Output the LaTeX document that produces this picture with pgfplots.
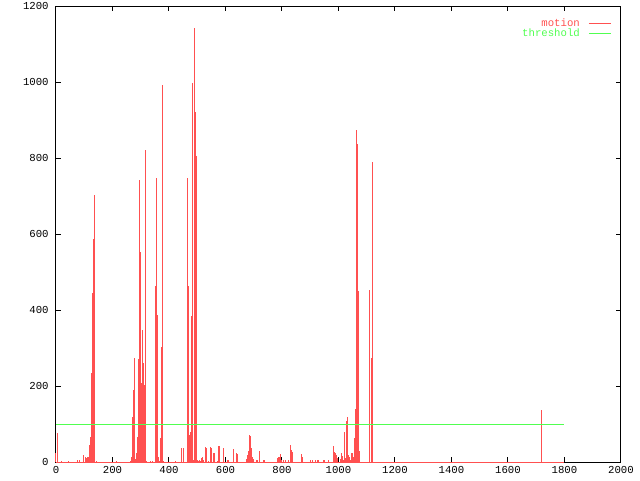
\documentclass[border=0pt]{standalone}
\usepackage{pgfplots}
\pgfplotsset{compat=1.18}
\usepackage{fontspec}
\setmainfont{Liberation Mono}
\definecolor{gpred}{RGB}{255,80,80}
\definecolor{gpgreen}{RGB}{80,255,80}
\begin{document}
\begin{tikzpicture}
\begin{axis}[
  scale only axis,
  width=423.75pt, height=342pt,
  at={(0,0)}, anchor=south west,
  xmin=0, xmax=2000, ymin=0, ymax=1200,
  xtick={0,200,...,2000}, ytick={0,200,...,1200},
  tick align=inside, major tick length=3.75pt,
  tick style={black, line width=0.75pt},
  axis line style={black, line width=0.75pt},
  /pgf/number format/assume math mode=true,
  /pgf/number format/1000 sep={},
  tick label style={font=\fontsize{8}{9}\selectfont},
  xticklabel style={yshift=0pt},
  yticklabel style={xshift=-2pt},
  clip=false,
  legend style={draw=none, fill=none, at={(0.986,0.982)}, anchor=north east,
    font=\fontsize{8}{8.5}\selectfont, row sep=-3.5pt, inner sep=1pt},
  legend cell align=right,
  legend plot pos=right,
]
\addplot[ycomb, gpred, line width=0.75pt, mark=none,
  legend image code/.code={\path (0pt,0pt); \draw[gpred, line width=0.75pt] (4.5pt,0pt) -- (21pt,0pt);}] table {
x y
0 25
4 76
7 15
21 3
43 3
46 3
75 5
82 5
96 18
99 10
103 14
107 10
110 14
114 12
117 45
121 67
124 234
128 444
131 588
135 702
138 14
142 3
213 3
263 3
266 14
270 119
273 189
277 273
280 8
284 23
288 67
291 271
295 742
298 553
302 208
305 347
309 260
312 203
316 820
320 3
334 3
341 3
351 463
355 747
359 386
362 14
366 3
369 63
373 303
376 991
380 3
422 3
444 37
451 37
465 747
469 463
472 71
476 80
479 384
483 997
487 5
490 1141
494 921
497 806
501 5
504 3
508 5
511 3
515 10
518 12
522 5
529 39
533 36
540 3
547 40
550 38
557 25
561 23
572 3
575 42
579 42
593 37
607 5
611 5
628 34
639 25
643 22
675 7
678 18
682 30
685 71
689 68
692 36
696 14
700 7
710 5
714 5
721 30
735 5
739 5
785 11
788 14
792 14
795 21
799 5
806 5
813 5
824 5
831 45
834 32
838 26
870 21
873 12
902 5
909 5
919 5
927 5
930 5
948 5
952 5
966 5
983 42
987 27
990 23
994 18
998 11
1008 8
1012 23
1015 16
1019 5
1022 80
1026 10
1030 109
1033 119
1037 18
1040 12
1044 5
1047 23
1051 25
1054 12
1058 62
1061 140
1065 873
1068 838
1072 451
1076 28
1108 452
1111 109
1118 273
1122 789
1718 137
};
\addlegendentry{\textcolor{gpred}{motion}}
\addplot[gpred, line width=0.75pt, forget plot] coordinates {(0,0) (1800,0)};
\addplot[gpgreen, line width=0.75pt,
  legend image code/.code={\path (0pt,0pt); \draw[gpgreen, line width=0.75pt] (4.5pt,0pt) -- (21pt,0pt);}] coordinates {(0,100) (1800,100)};
\addlegendentry{\textcolor{gpgreen}{threshold}}
\end{axis}
\pgfresetboundingbox
\path (-42pt,-13.5pt) rectangle (438pt,346.5pt);
\end{tikzpicture}
\end{document}
